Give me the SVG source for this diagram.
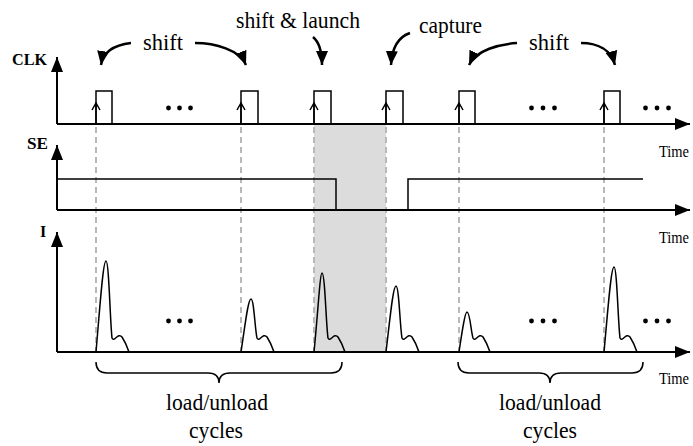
<svg xmlns="http://www.w3.org/2000/svg" width="693" height="446" viewBox="0 0 693 446">
<style>
text{font-family:'Liberation Serif','Times New Roman','DejaVu Serif',serif;fill:#000}
.lbl{font-size:24px}
.time{font-size:17px}
.ax{font-size:16px;font-weight:bold}
.axis{stroke:#000;stroke-width:2;fill:none}
.sig{stroke:#000;stroke-width:1.5;fill:none}
.dash{stroke:#b8b8b8;stroke-width:2;stroke-dasharray:6 4;fill:none}
.curve{stroke:#000;stroke-width:2.5;fill:none}
.brace{stroke:#000;stroke-width:1.5;fill:none}
.dot{fill:#000}
</style>
<defs>
<marker id="axh" markerUnits="userSpaceOnUse" markerWidth="16" markerHeight="14" refX="15" refY="7" orient="auto">
<path d="M0,1 L15,7 L0,13 Z" fill="#000"/>
</marker>
<marker id="cvh" markerUnits="userSpaceOnUse" markerWidth="15" markerHeight="14" refX="14" refY="7" orient="auto">
<path d="M0,1 L14,7 L0,13 Z" fill="#000"/>
</marker>
</defs>

<rect id="shade" x="314" y="125" width="72" height="227" fill="#dcdcdc"/>

<g id="dashes">
<path class="dash" d="M96,127 V352 M241,127 V352 M314,127 V352 M386,127 V352 M459,127 V352 M604,127 V352"/>
</g>

<g id="clk-axis">
<path class="axis" d="M57,124 V57" marker-end="url(#axh)"/>
<path class="axis" d="M57,124 H690" marker-end="url(#axh)"/>
<text class="ax" x="12" y="65" textLength="35" lengthAdjust="spacingAndGlyphs">CLK</text>
<text class="time" x="659" y="157" textLength="30" lengthAdjust="spacingAndGlyphs">Time</text>
</g>

<g id="clk-pulses">
<path class="sig" d="M96,124 V91 H112 V124 M241,124 V91 H258 V124 M314,124 V91 H331 V124 M386,124 V91 H403 V124 M459,124 V91 H475 V124 M604,124 V91 H620 V124"/>
<path class="sig" d="M96,124 V103 M92,110 L96,103 L100,110 M241,124 V103 M237,110 L241,103 L245,110 M314,124 V103 M310,110 L314,103 L318,110 M386,124 V103 M382,110 L386,103 L390,110 M459,124 V103 M455,110 L459,103 L463,110 M604,124 V103 M600,110 L604,103 L608,110"/>
<g class="dot">
<circle cx="168.5" cy="108" r="2.4"/><circle cx="179.5" cy="108" r="2.4"/><circle cx="190.5" cy="108" r="2.4"/>
<circle cx="531.5" cy="108" r="2.4"/><circle cx="543" cy="108" r="2.4"/><circle cx="554.5" cy="108" r="2.4"/>
<circle cx="645.5" cy="108" r="2.4"/><circle cx="657" cy="108" r="2.4"/><circle cx="668.5" cy="108" r="2.4"/>
</g>
</g>

<g id="se-axis">
<path class="axis" d="M57,210 V145" marker-end="url(#axh)"/>
<path class="axis" d="M57,210 H690" marker-end="url(#axh)"/>
<text class="ax" x="27" y="149" textLength="21" lengthAdjust="spacingAndGlyphs">SE</text>
<text class="time" x="659" y="243" textLength="30" lengthAdjust="spacingAndGlyphs">Time</text>
<path class="sig" d="M57,179 H336 V210 M408,210 V179 H643"/>
</g>

<g id="i-axis">
<path class="axis" d="M57,352 V232" marker-end="url(#axh)"/>
<path class="axis" d="M57,352 H690" marker-end="url(#axh)"/>
<text class="ax" x="40" y="237">I</text>
<text class="time" x="659" y="384" textLength="30" lengthAdjust="spacingAndGlyphs">Time</text>
</g>

<g id="peaks">
<path class="sig" d="M96,352 C100,306 103,261 106,261 C109,261 110,320 112,338 C114,343 118,332 122,337 C124,340 127,346 129,352"/>
<path class="sig" d="M241,352 C245,326 248,299 251,299 C254,299 255,330 257,338 C259,343 263,332 267,337 C269,340 272,346 274,352"/>
<path class="sig" d="M314,352 C318,312 320,273 322,273 C325,273 326,324 328,338 C330,343 334,332 338,337 C340,340 343,346 345,352"/>
<path class="sig" d="M386,352 C390,319 393,286 396,286 C399,286 400,327 402,338 C404,343 408,332 412,337 C414,340 417,346 419,352"/>
<path class="sig" d="M459,352 C462,332 465,312 467,312 C470,312 471,332 473,338 C475,343 479,332 483,337 C485,340 488,346 490,352"/>
<path class="sig" d="M604,352 C608,309 611,267 614,267 C617,267 618,322 620,338 C622,343 626,332 630,337 C632,340 635,346 637,352"/>
<g class="dot">
<circle cx="168.5" cy="321" r="2.4"/><circle cx="179.5" cy="321" r="2.4"/><circle cx="190.5" cy="321" r="2.4"/>
<circle cx="531.5" cy="321" r="2.4"/><circle cx="543" cy="321" r="2.4"/><circle cx="554.5" cy="321" r="2.4"/>
<circle cx="645.5" cy="321" r="2.4"/><circle cx="657" cy="321" r="2.4"/><circle cx="668.5" cy="321" r="2.4"/>
</g>
</g>

<g id="labels">
<text class="lbl" x="143" y="50" textLength="40" lengthAdjust="spacingAndGlyphs">shift</text>
<text class="lbl" x="236" y="28" textLength="124" lengthAdjust="spacingAndGlyphs">shift &amp; launch</text>
<text class="lbl" x="419" y="33" textLength="63" lengthAdjust="spacingAndGlyphs">capture</text>
<text class="lbl" x="529" y="50" textLength="40" lengthAdjust="spacingAndGlyphs">shift</text>
</g>

<g id="connectors">
<path class="curve" d="M131,43 C114,45 103,52 101,65" marker-end="url(#cvh)"/>
<path class="curve" d="M195,43 C215,43 240,50 246,65" marker-end="url(#cvh)"/>
<path class="curve" d="M313,37 C319,42 322,50 322,65" marker-end="url(#cvh)"/>
<path class="curve" d="M410,33 C398,37 392,48 391,65" marker-end="url(#cvh)"/>
<path class="curve" d="M517,43 C500,44 476,50 469,65" marker-end="url(#cvh)"/>
<path class="curve" d="M581,43 C598,43 611,50 615,65" marker-end="url(#cvh)"/>
</g>

<g id="brace-left">
<path class="brace" d="M96,362 Q96,373 107,373 H208 Q219,373 219,383 Q219,373 230,373 H331 Q342,373 342,362"/>
<text class="lbl" x="217" y="410" text-anchor="middle" textLength="102" lengthAdjust="spacingAndGlyphs">load/unload</text>
<text class="lbl" x="216" y="438" text-anchor="middle" textLength="54" lengthAdjust="spacingAndGlyphs">cycles</text>
</g>

<g id="brace-right">
<path class="brace" d="M458,362 Q458,373 469,373 H539 Q550,373 550,383 Q550,373 561,373 H632 Q643,373 643,362"/>
<text class="lbl" x="550" y="410" text-anchor="middle" textLength="102" lengthAdjust="spacingAndGlyphs">load/unload</text>
<text class="lbl" x="550" y="438" text-anchor="middle" textLength="54" lengthAdjust="spacingAndGlyphs">cycles</text>
</g>
</svg>
